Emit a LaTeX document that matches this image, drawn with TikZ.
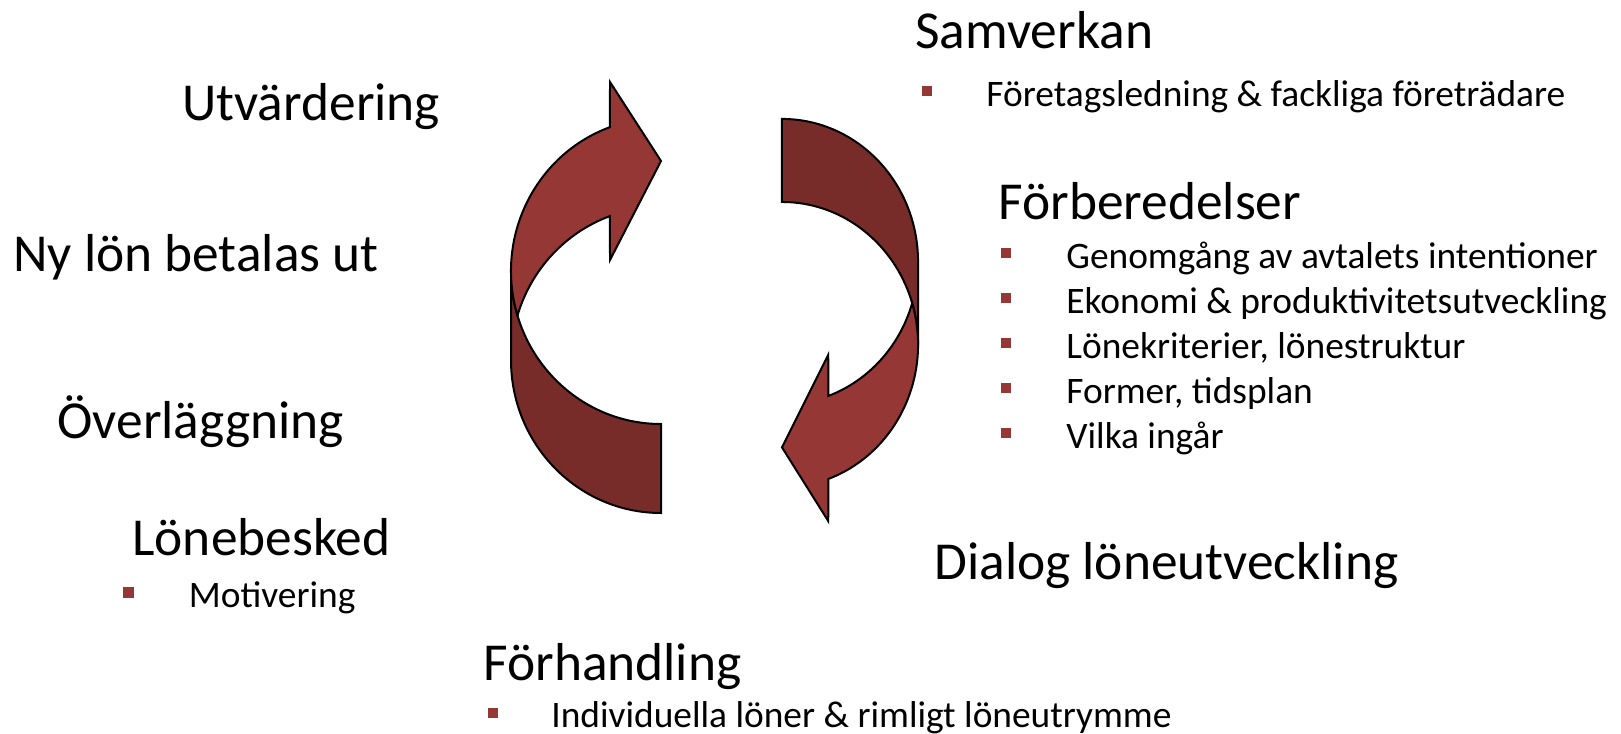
\documentclass[tikz,border=0pt]{standalone}
\usepackage{fontspec}
\setmainfont{Carlito}
\definecolor{arrowlight}{HTML}{953735}
\definecolor{arrowdark}{HTML}{772C2A}
\newcommand{\cyclearrow}{%
  \path[fill=arrowdark, draw=black, line width=1pt]
    (-75,-26.5) -- (-75,62.5)
    arc[start angle=180, end angle=90, x radius=150, y radius=153]
    -- (75,126.5)
    arc[start angle=90, end angle=180, x radius=150, y radius=153]
    -- cycle;
  \path[fill=arrowlight, draw=black, line width=1pt]
    (23.94,-170.37)
    arc[start angle=250.1, end angle=163.1, x radius=150, y radius=153]
    arc[start angle=196.9, end angle=250.1, x radius=150, y radius=153]
    -- (24,-37.5) -- (75,-136.5) -- (24,-215.5) -- cycle;
}
\tikzset{
  head/.style={font=\fontsize{26.7}{30}\selectfont, anchor=base west, inner sep=0pt},
  item/.style={font=\fontsize{18.7}{22}\selectfont, anchor=base west, inner sep=0pt},
  bul/.style={fill=arrowlight, minimum size=5.25pt, inner sep=0pt, draw=none}
}
\begin{document}
\begin{tikzpicture}[x=0.5pt, y=-0.5pt]
\useasboundingbox (0,0) rectangle (1621,733);
% arrows
\begin{scope}[shift={(586,297.5)}]
  \cyclearrow
\end{scope}
\begin{scope}[shift={(850,320)}, rotate=180, xscale=0.907, yscale=0.933]
  \cyclearrow
\end{scope}
% left column
\node[head] (utv) at (182,120) {Utvärdering};
\node[head] (ny) at (13,271) {Ny lön betalas ut};
\node[head] (over) at (57,438) {Överläggning};
\node[head] (lone) at (132,555) {Lönebesked};
\node[bul] (b1) at (128.7,592.3) {};
\node[item] (motiv) at (188.5,607) {Motivering};
% bottom
\node[head] (forh) at (483,680) {Förhandling};
\node[bul] (b2) at (493,713) {};
\node[item] (indiv) at (551,727) {Individuella löner \& rimligt löneutrymme};
% right column
\node[head] (samv) at (915,49) {Samverkan};
\node[bul] (b3) at (927,91) {};
\node[item] (foret) at (986,106) {Företagsledning \& fackliga företrädare};
\node[head] (forb) at (998,219) {Förberedelser};
\node[bul] (b4) at (1006,253) {};
\node[item] (gen) at (1066,268) {Genomgång av avtalets intentioner};
\node[bul] (b5) at (1006,298) {};
\node[item] (eko) at (1066,313) {Ekonomi \& produktivitetsutveckling};
\node[bul] (b6) at (1006,343) {};
\node[item] (krit) at (1066,358) {Lönekriterier, lönestruktur};
\node[bul] (b7) at (1006,388) {};
\node[item] (form) at (1066,403) {Former, tidsplan};
\node[bul] (b8) at (1006,433) {};
\node[item] (vilka) at (1066,448) {Vilka ingår};
\node[head] (dial) at (934,579) {Dialog löneutveckling};
\end{tikzpicture}
\end{document}
